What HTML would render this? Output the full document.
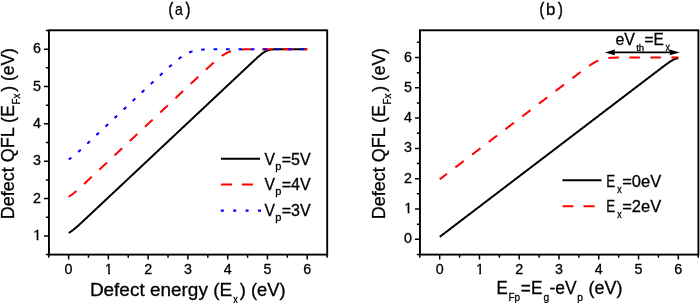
<!DOCTYPE html>
<html><head><meta charset="utf-8"><style>
html,body{margin:0;padding:0;background:#fff;}
svg{display:block;will-change:transform;}
text{font-family:"Liberation Sans", sans-serif;fill:#000;stroke:#000;stroke-width:0.3px;}
</style></head><body>
<svg width="700" height="303" viewBox="0 0 700 303">
<defs><clipPath id="c1m"><path d="M-6.53 -20 H10.77 V-1.97 H1.63 V3 H-0.23 V-1.97 H-6.53 Z"/></clipPath><clipPath id="c1e"><path d="M-10.50 -20 H6.80 V-1.97 H-2.34 V3 H-4.21 V-1.97 H-10.50 Z"/></clipPath></defs>
<rect x="48.95" y="30.3" width="278.25" height="224.30" fill="none" stroke="#000" stroke-width="1.9"/>
<path d="M48.71 254.6v3.1 M68.60 254.6v5.0 M88.48 254.6v3.1 M108.37 254.6v5.0 M128.25 254.6v3.1 M148.14 254.6v5.0 M168.03 254.6v3.1 M187.91 254.6v5.0 M207.80 254.6v3.1 M227.68 254.6v5.0 M247.56 254.6v3.1 M267.45 254.6v5.0 M287.34 254.6v3.1 M307.22 254.6v5.0 M327.11 254.6v3.1 M48.95 254.58h-3.1 M48.95 235.90h-5.0 M48.95 217.22h-3.1 M48.95 198.55h-5.0 M48.95 179.88h-3.1 M48.95 161.20h-5.0 M48.95 142.53h-3.1 M48.95 123.85h-5.0 M48.95 105.18h-3.1 M48.95 86.50h-5.0 M48.95 67.82h-3.1 M48.95 49.15h-5.0 M48.95 30.47h-3.1" stroke="#000" stroke-width="1.5" fill="none"/>
<text x="68.60" y="273.8" text-anchor="middle" font-size="14.3">0</text>
<g transform="translate(108.37,273.8)"><text x="0.45" text-anchor="middle" font-size="14.3" clip-path="url(#c1m)">1</text></g>
<text x="148.14" y="273.8" text-anchor="middle" font-size="14.3">2</text>
<text x="187.91" y="273.8" text-anchor="middle" font-size="14.3">3</text>
<text x="227.68" y="273.8" text-anchor="middle" font-size="14.3">4</text>
<text x="267.45" y="273.8" text-anchor="middle" font-size="14.3">5</text>
<text x="307.22" y="273.8" text-anchor="middle" font-size="14.3">6</text>
<g transform="translate(40.85,239.90)"><text x="0.45" text-anchor="end" font-size="14.3" clip-path="url(#c1e)">1</text></g>
<text x="40.85" y="202.55" text-anchor="end" font-size="14.3">2</text>
<text x="40.85" y="165.20" text-anchor="end" font-size="14.3">3</text>
<text x="40.85" y="127.85" text-anchor="end" font-size="14.3">4</text>
<text x="40.85" y="90.50" text-anchor="end" font-size="14.3">5</text>
<text x="40.85" y="53.15" text-anchor="end" font-size="14.3">6</text>
<rect x="419.95" y="30.3" width="278.45" height="224.30" fill="none" stroke="#000" stroke-width="1.9"/>
<path d="M419.81 254.6v3.1 M439.70 254.6v5.0 M459.58 254.6v3.1 M479.47 254.6v5.0 M499.36 254.6v3.1 M519.24 254.6v5.0 M539.12 254.6v3.1 M559.01 254.6v5.0 M578.89 254.6v3.1 M598.78 254.6v5.0 M618.66 254.6v3.1 M638.55 254.6v5.0 M658.43 254.6v3.1 M678.32 254.6v5.0 M698.20 254.6v3.1 M419.95 254.45h-3.1 M419.95 239.30h-5.0 M419.95 224.15h-3.1 M419.95 209.00h-5.0 M419.95 193.85h-3.1 M419.95 178.70h-5.0 M419.95 163.55h-3.1 M419.95 148.40h-5.0 M419.95 133.25h-3.1 M419.95 118.10h-5.0 M419.95 102.95h-3.1 M419.95 87.80h-5.0 M419.95 72.65h-3.1 M419.95 57.50h-5.0 M419.95 42.35h-3.1" stroke="#000" stroke-width="1.5" fill="none"/>
<text x="439.70" y="273.8" text-anchor="middle" font-size="14.3">0</text>
<g transform="translate(479.47,273.8)"><text x="0.45" text-anchor="middle" font-size="14.3" clip-path="url(#c1m)">1</text></g>
<text x="519.24" y="273.8" text-anchor="middle" font-size="14.3">2</text>
<text x="559.01" y="273.8" text-anchor="middle" font-size="14.3">3</text>
<text x="598.78" y="273.8" text-anchor="middle" font-size="14.3">4</text>
<text x="638.55" y="273.8" text-anchor="middle" font-size="14.3">5</text>
<text x="678.32" y="273.8" text-anchor="middle" font-size="14.3">6</text>
<text x="411.85" y="243.30" text-anchor="end" font-size="14.3">0</text>
<g transform="translate(411.85,213.00)"><text x="0.45" text-anchor="end" font-size="14.3" clip-path="url(#c1e)">1</text></g>
<text x="411.85" y="182.70" text-anchor="end" font-size="14.3">2</text>
<text x="411.85" y="152.40" text-anchor="end" font-size="14.3">3</text>
<text x="411.85" y="122.10" text-anchor="end" font-size="14.3">4</text>
<text x="411.85" y="91.80" text-anchor="end" font-size="14.3">5</text>
<text x="411.85" y="61.50" text-anchor="end" font-size="14.3">6</text>
<polyline points="68.60,232.84 69.20,232.54 69.79,232.22 70.39,231.87 70.99,231.50 71.58,231.10 72.18,230.68 72.78,230.24 73.37,229.78 73.97,229.31 74.57,228.82 75.16,228.32 75.76,227.81 76.36,227.30 76.95,226.77 77.55,226.24 78.14,225.70 78.74,225.16 79.34,224.62 79.93,224.07 80.53,223.52 81.13,222.97 81.72,222.42 82.32,221.87 82.92,221.31 83.51,220.75 84.11,220.20 84.71,219.64 85.30,219.08 85.90,218.52 86.50,217.97 87.09,217.41 87.69,216.85 88.29,216.29 88.88,215.73 89.48,215.17 90.08,214.61 90.67,214.05 91.27,213.49 91.87,212.93 92.46,212.37 93.06,211.81 93.66,211.25 94.25,210.69 94.85,210.13 95.44,209.57 96.04,209.01 96.64,208.45 97.23,207.89 97.83,207.33 98.43,206.77 99.02,206.21 99.62,205.65 100.22,205.09 100.81,204.53 101.41,203.97 102.01,203.41 102.60,202.85 103.20,202.28 103.80,201.72 104.39,201.16 104.99,200.60 105.59,200.04 106.18,199.48 106.78,198.92 107.38,198.36 107.97,197.80 108.57,197.24 109.17,196.68 109.76,196.12 110.36,195.56 110.96,195.00 111.55,194.44 112.15,193.88 112.74,193.32 113.34,192.76 113.94,192.20 114.53,191.64 115.13,191.08 115.73,190.52 116.32,189.96 116.92,189.40 117.52,188.84 118.11,188.28 118.71,187.72 119.31,187.16 119.90,186.60 120.50,186.04 121.10,185.48 121.69,184.92 122.29,184.36 122.89,183.80 123.48,183.24 124.08,182.68 124.68,182.12 125.27,181.56 125.87,181.00 126.47,180.44 127.06,179.87 127.66,179.31 128.25,178.75 128.85,178.19 129.45,177.63 130.04,177.07 130.64,176.51 131.24,175.95 131.83,175.39 132.43,174.83 133.03,174.27 133.62,173.71 134.22,173.15 134.82,172.59 135.41,172.03 136.01,171.47 136.61,170.91 137.20,170.35 137.80,169.79 138.40,169.23 138.99,168.67 139.59,168.11 140.19,167.55 140.78,166.99 141.38,166.43 141.98,165.87 142.57,165.31 143.17,164.75 143.77,164.19 144.36,163.63 144.96,163.07 145.55,162.51 146.15,161.95 146.75,161.39 147.34,160.83 147.94,160.27 148.54,159.71 149.13,159.15 149.73,158.59 150.33,158.03 150.92,157.46 151.52,156.90 152.12,156.34 152.71,155.78 153.31,155.22 153.91,154.66 154.50,154.10 155.10,153.54 155.70,152.98 156.29,152.42 156.89,151.86 157.49,151.30 158.08,150.74 158.68,150.18 159.28,149.62 159.87,149.06 160.47,148.50 161.07,147.94 161.66,147.38 162.26,146.82 162.85,146.26 163.45,145.70 164.05,145.14 164.64,144.58 165.24,144.02 165.84,143.46 166.43,142.90 167.03,142.34 167.63,141.78 168.22,141.22 168.82,140.66 169.42,140.10 170.01,139.54 170.61,138.98 171.21,138.42 171.80,137.86 172.40,137.30 173.00,136.74 173.59,136.18 174.19,135.62 174.79,135.06 175.38,134.49 175.98,133.93 176.58,133.37 177.17,132.81 177.77,132.25 178.37,131.69 178.96,131.13 179.56,130.57 180.15,130.01 180.75,129.45 181.35,128.89 181.94,128.33 182.54,127.77 183.14,127.21 183.73,126.65 184.33,126.09 184.93,125.53 185.52,124.97 186.12,124.41 186.72,123.85 187.31,123.29 187.91,122.73 188.51,122.17 189.10,121.61 189.70,121.05 190.30,120.49 190.89,119.93 191.49,119.37 192.09,118.81 192.68,118.25 193.28,117.69 193.88,117.13 194.47,116.57 195.07,116.01 195.67,115.45 196.26,114.89 196.86,114.33 197.45,113.77 198.05,113.21 198.65,112.65 199.24,112.08 199.84,111.52 200.44,110.96 201.03,110.40 201.63,109.84 202.23,109.28 202.82,108.72 203.42,108.16 204.02,107.60 204.61,107.04 205.21,106.48 205.81,105.92 206.40,105.36 207.00,104.80 207.60,104.24 208.19,103.68 208.79,103.12 209.39,102.56 209.98,102.00 210.58,101.44 211.18,100.88 211.77,100.32 212.37,99.76 212.97,99.20 213.56,98.64 214.16,98.08 214.75,97.52 215.35,96.96 215.95,96.40 216.54,95.84 217.14,95.28 217.74,94.72 218.33,94.16 218.93,93.60 219.53,93.04 220.12,92.48 220.72,91.92 221.32,91.36 221.91,90.80 222.51,90.24 223.11,89.67 223.70,89.11 224.30,88.55 224.90,87.99 225.49,87.43 226.09,86.87 226.69,86.31 227.28,85.75 227.88,85.19 228.48,84.63 229.07,84.07 229.67,83.51 230.27,82.95 230.86,82.39 231.46,81.83 232.05,81.27 232.65,80.71 233.25,80.15 233.84,79.59 234.44,79.03 235.04,78.47 235.63,77.91 236.23,77.35 236.83,76.79 237.42,76.23 238.02,75.67 238.62,75.11 239.21,74.55 239.81,73.99 240.41,73.43 241.00,72.87 241.60,72.31 242.20,71.75 242.79,71.19 243.39,70.63 243.99,70.07 244.58,69.51 245.18,68.95 245.78,68.39 246.37,67.83 246.97,67.27 247.56,66.71 248.16,66.15 248.76,65.59 249.35,65.03 249.95,64.47 250.55,63.91 251.14,63.35 251.74,62.80 252.34,62.24 252.93,61.68 253.53,61.13 254.13,60.58 254.72,60.02 255.32,59.47 255.92,58.92 256.51,58.38 257.11,57.84 257.71,57.30 258.30,56.77 258.90,56.24 259.50,55.72 260.09,55.21 260.69,54.71 261.29,54.22 261.88,53.75 262.48,53.30 263.08,52.86 263.67,52.45 264.27,52.06 264.86,51.70 265.46,51.36 266.06,51.06 266.65,50.78 267.25,50.54 267.85,50.32 268.44,50.13 269.04,49.97 269.64,49.83 270.23,49.71 270.83,49.61 271.43,49.53 272.02,49.46 272.62,49.40 273.22,49.36 273.81,49.32 274.41,49.29 275.01,49.26 275.60,49.24 276.20,49.22 276.80,49.21 277.39,49.20 277.99,49.19 278.59,49.18 279.18,49.18 279.78,49.17 280.38,49.17 280.97,49.16 281.57,49.16 282.16,49.16 282.76,49.16 283.36,49.16 283.95,49.15 284.55,49.15 285.15,49.15 285.74,49.15 286.34,49.15 286.94,49.15 287.53,49.15 288.13,49.15 288.73,49.15 289.32,49.15 289.92,49.15 290.52,49.15 291.11,49.15 291.71,49.15 292.31,49.15 292.90,49.15 293.50,49.15 294.10,49.15 294.69,49.15 295.29,49.15 295.89,49.15 296.48,49.15 297.08,49.15 297.68,49.15 298.27,49.15 298.87,49.15 299.46,49.15 300.06,49.15 300.66,49.15 301.25,49.15 301.85,49.15 302.45,49.15 303.04,49.15 303.64,49.15 304.24,49.15 304.83,49.15 305.43,49.15 306.03,49.15 306.62,49.15 307.22,49.15" fill="none" stroke="#000" stroke-width="2.0" stroke-linejoin="round"/>
<polyline points="68.60,196.61 69.20,196.31 69.79,195.99 70.39,195.64 70.99,195.27 71.58,194.87 72.18,194.45 72.78,194.01 73.37,193.55 73.97,193.08 74.57,192.59 75.16,192.09 75.76,191.58 76.36,191.07 76.95,190.54 77.55,190.01 78.14,189.47 78.74,188.93 79.34,188.39 79.93,187.84 80.53,187.29 81.13,186.74 81.72,186.19 82.32,185.64 82.92,185.08 83.51,184.52 84.11,183.97 84.71,183.41 85.30,182.85 85.90,182.29 86.50,181.74 87.09,181.18 87.69,180.62 88.29,180.06 88.88,179.50 89.48,178.94 90.08,178.38 90.67,177.82 91.27,177.26 91.87,176.70 92.46,176.14 93.06,175.58 93.66,175.02 94.25,174.46 94.85,173.90 95.44,173.34 96.04,172.78 96.64,172.22 97.23,171.66 97.83,171.10 98.43,170.54 99.02,169.98 99.62,169.42 100.22,168.86 100.81,168.30 101.41,167.74 102.01,167.18 102.60,166.62 103.20,166.06 103.80,165.50 104.39,164.93 104.99,164.37 105.59,163.81 106.18,163.25 106.78,162.69 107.38,162.13 107.97,161.57 108.57,161.01 109.17,160.45 109.76,159.89 110.36,159.33 110.96,158.77 111.55,158.21 112.15,157.65 112.74,157.09 113.34,156.53 113.94,155.97 114.53,155.41 115.13,154.85 115.73,154.29 116.32,153.73 116.92,153.17 117.52,152.61 118.11,152.05 118.71,151.49 119.31,150.93 119.90,150.37 120.50,149.81 121.10,149.25 121.69,148.69 122.29,148.13 122.89,147.57 123.48,147.01 124.08,146.45 124.68,145.89 125.27,145.33 125.87,144.77 126.47,144.21 127.06,143.65 127.66,143.09 128.25,142.53 128.85,141.96 129.45,141.40 130.04,140.84 130.64,140.28 131.24,139.72 131.83,139.16 132.43,138.60 133.03,138.04 133.62,137.48 134.22,136.92 134.82,136.36 135.41,135.80 136.01,135.24 136.61,134.68 137.20,134.12 137.80,133.56 138.40,133.00 138.99,132.44 139.59,131.88 140.19,131.32 140.78,130.76 141.38,130.20 141.98,129.64 142.57,129.08 143.17,128.52 143.77,127.96 144.36,127.40 144.96,126.84 145.55,126.28 146.15,125.72 146.75,125.16 147.34,124.60 147.94,124.04 148.54,123.48 149.13,122.92 149.73,122.36 150.33,121.80 150.92,121.24 151.52,120.68 152.12,120.12 152.71,119.55 153.31,118.99 153.91,118.43 154.50,117.87 155.10,117.31 155.70,116.75 156.29,116.19 156.89,115.63 157.49,115.07 158.08,114.51 158.68,113.95 159.28,113.39 159.87,112.83 160.47,112.27 161.07,111.71 161.66,111.15 162.26,110.59 162.85,110.03 163.45,109.47 164.05,108.91 164.64,108.35 165.24,107.79 165.84,107.23 166.43,106.67 167.03,106.11 167.63,105.55 168.22,104.99 168.82,104.43 169.42,103.87 170.01,103.31 170.61,102.75 171.21,102.19 171.80,101.63 172.40,101.07 173.00,100.51 173.59,99.95 174.19,99.39 174.79,98.83 175.38,98.27 175.98,97.71 176.58,97.14 177.17,96.58 177.77,96.02 178.37,95.46 178.96,94.90 179.56,94.34 180.15,93.78 180.75,93.22 181.35,92.66 181.94,92.10 182.54,91.54 183.14,90.98 183.73,90.42 184.33,89.86 184.93,89.30 185.52,88.74 186.12,88.18 186.72,87.62 187.31,87.06 187.91,86.50 188.51,85.94 189.10,85.38 189.70,84.82 190.30,84.26 190.89,83.70 191.49,83.14 192.09,82.58 192.68,82.02 193.28,81.46 193.88,80.90 194.47,80.35 195.07,79.79 195.67,79.23 196.26,78.67 196.86,78.11 197.45,77.55 198.05,76.99 198.65,76.43 199.24,75.88 199.84,75.32 200.44,74.76 201.03,74.20 201.63,73.65 202.23,73.09 202.82,72.53 203.42,71.98 204.02,71.42 204.61,70.87 205.21,70.32 205.81,69.76 206.40,69.21 207.00,68.66 207.60,68.11 208.19,67.56 208.79,67.02 209.39,66.47 209.98,65.93 210.58,65.39 211.18,64.85 211.77,64.31 212.37,63.77 212.97,63.24 213.56,62.72 214.16,62.19 214.75,61.67 215.35,61.16 215.95,60.65 216.54,60.14 217.14,59.64 217.74,59.15 218.33,58.66 218.93,58.19 219.53,57.72 220.12,57.26 220.72,56.81 221.32,56.37 221.91,55.94 222.51,55.53 223.11,55.12 223.70,54.73 224.30,54.36 224.90,54.00 225.49,53.65 226.09,53.32 226.69,53.00 227.28,52.71 227.88,52.42 228.48,52.16 229.07,51.91 229.67,51.67 230.27,51.45 230.86,51.25 231.46,51.06 232.05,50.88 232.65,50.72 233.25,50.57 233.84,50.44 234.44,50.31 235.04,50.20 235.63,50.09 236.23,50.00 236.83,49.91 237.42,49.84 238.02,49.77 238.62,49.70 239.21,49.65 239.81,49.59 240.41,49.55 241.00,49.51 241.60,49.47 242.20,49.43 242.79,49.40 243.39,49.38 243.99,49.35 244.58,49.33 245.18,49.31 245.78,49.29 246.37,49.28 246.97,49.27 247.56,49.25 248.16,49.24 248.76,49.23 249.35,49.22 249.95,49.21 250.55,49.21 251.14,49.20 251.74,49.20 252.34,49.19 252.93,49.19 253.53,49.18 254.13,49.18 254.72,49.18 255.32,49.17 255.92,49.17 256.51,49.17 257.11,49.17 257.71,49.16 258.30,49.16 258.90,49.16 259.50,49.16 260.09,49.16 260.69,49.16 261.29,49.16 261.88,49.16 262.48,49.16 263.08,49.16 263.67,49.15 264.27,49.15 264.86,49.15 265.46,49.15 266.06,49.15 266.65,49.15 267.25,49.15 267.85,49.15 268.44,49.15 269.04,49.15 269.64,49.15 270.23,49.15 270.83,49.15 271.43,49.15 272.02,49.15 272.62,49.15 273.22,49.15 273.81,49.15 274.41,49.15 275.01,49.15 275.60,49.15 276.20,49.15 276.80,49.15 277.39,49.15 277.99,49.15 278.59,49.15 279.18,49.15 279.78,49.15 280.38,49.15 280.97,49.15 281.57,49.15 282.16,49.15 282.76,49.15 283.36,49.15 283.95,49.15 284.55,49.15 285.15,49.15 285.74,49.15 286.34,49.15 286.94,49.15 287.53,49.15 288.13,49.15 288.73,49.15 289.32,49.15 289.92,49.15 290.52,49.15 291.11,49.15 291.71,49.15 292.31,49.15 292.90,49.15 293.50,49.15 294.10,49.15 294.69,49.15 295.29,49.15 295.89,49.15 296.48,49.15 297.08,49.15 297.68,49.15 298.27,49.15 298.87,49.15 299.46,49.15 300.06,49.15 300.66,49.15 301.25,49.15 301.85,49.15 302.45,49.15 303.04,49.15 303.64,49.15 304.24,49.15 304.83,49.15 305.43,49.15 306.03,49.15 306.62,49.15 307.22,49.15" fill="none" stroke="#f00" stroke-width="2.0" stroke-dasharray="10.5 10.386" stroke-dashoffset="0.82"/>
<polyline points="68.60,159.26 69.20,158.96 69.79,158.64 70.39,158.29 70.99,157.92 71.58,157.52 72.18,157.10 72.78,156.66 73.37,156.20 73.97,155.73 74.57,155.24 75.16,154.74 75.76,154.23 76.36,153.72 76.95,153.19 77.55,152.66 78.14,152.12 78.74,151.58 79.34,151.04 79.93,150.49 80.53,149.94 81.13,149.39 81.72,148.84 82.32,148.29 82.92,147.73 83.51,147.17 84.11,146.62 84.71,146.06 85.30,145.50 85.90,144.94 86.50,144.39 87.09,143.83 87.69,143.27 88.29,142.71 88.88,142.15 89.48,141.59 90.08,141.03 90.67,140.47 91.27,139.91 91.87,139.35 92.46,138.79 93.06,138.23 93.66,137.67 94.25,137.11 94.85,136.55 95.44,135.99 96.04,135.43 96.64,134.87 97.23,134.31 97.83,133.75 98.43,133.19 99.02,132.63 99.62,132.07 100.22,131.51 100.81,130.95 101.41,130.39 102.01,129.83 102.60,129.27 103.20,128.71 103.80,128.15 104.39,127.58 104.99,127.02 105.59,126.46 106.18,125.90 106.78,125.34 107.38,124.78 107.97,124.22 108.57,123.66 109.17,123.10 109.76,122.54 110.36,121.98 110.96,121.42 111.55,120.86 112.15,120.30 112.74,119.74 113.34,119.18 113.94,118.62 114.53,118.06 115.13,117.50 115.73,116.94 116.32,116.38 116.92,115.82 117.52,115.26 118.11,114.70 118.71,114.14 119.31,113.58 119.90,113.02 120.50,112.46 121.10,111.90 121.69,111.34 122.29,110.78 122.89,110.22 123.48,109.66 124.08,109.10 124.68,108.54 125.27,107.98 125.87,107.42 126.47,106.86 127.06,106.30 127.66,105.74 128.25,105.18 128.85,104.62 129.45,104.05 130.04,103.49 130.64,102.93 131.24,102.37 131.83,101.81 132.43,101.25 133.03,100.69 133.62,100.13 134.22,99.57 134.82,99.01 135.41,98.45 136.01,97.89 136.61,97.33 137.20,96.77 137.80,96.21 138.40,95.65 138.99,95.09 139.59,94.53 140.19,93.97 140.78,93.41 141.38,92.85 141.98,92.29 142.57,91.73 143.17,91.17 143.77,90.61 144.36,90.05 144.96,89.49 145.55,88.93 146.15,88.37 146.75,87.81 147.34,87.25 147.94,86.69 148.54,86.13 149.13,85.57 149.73,85.02 150.33,84.46 150.92,83.90 151.52,83.34 152.12,82.78 152.71,82.22 153.31,81.66 153.91,81.10 154.50,80.54 155.10,79.99 155.70,79.43 156.29,78.87 156.89,78.31 157.49,77.76 158.08,77.20 158.68,76.64 159.28,76.09 159.87,75.53 160.47,74.98 161.07,74.42 161.66,73.87 162.26,73.32 162.85,72.76 163.45,72.21 164.05,71.66 164.64,71.11 165.24,70.56 165.84,70.02 166.43,69.47 167.03,68.93 167.63,68.38 168.22,67.84 168.82,67.30 169.42,66.76 170.01,66.23 170.61,65.70 171.21,65.17 171.80,64.64 172.40,64.12 173.00,63.60 173.59,63.08 174.19,62.57 174.79,62.06 175.38,61.56 175.98,61.07 176.58,60.58 177.17,60.09 177.77,59.61 178.37,59.14 178.96,58.68 179.56,58.23 180.15,57.78 180.75,57.35 181.35,56.92 181.94,56.51 182.54,56.10 183.14,55.71 183.73,55.33 184.33,54.96 184.93,54.61 185.52,54.27 186.12,53.94 186.72,53.62 187.31,53.32 187.91,53.03 188.51,52.76 189.10,52.50 189.70,52.26 190.30,52.02 190.89,51.81 191.49,51.60 192.09,51.41 192.68,51.23 193.28,51.06 193.88,50.91 194.47,50.76 195.07,50.63 195.67,50.50 196.26,50.38 196.86,50.28 197.45,50.18 198.05,50.09 198.65,50.01 199.24,49.93 199.84,49.86 200.44,49.80 201.03,49.74 201.63,49.69 202.23,49.64 202.82,49.59 203.42,49.55 204.02,49.51 204.61,49.48 205.21,49.45 205.81,49.42 206.40,49.40 207.00,49.37 207.60,49.35 208.19,49.33 208.79,49.32 209.39,49.30 209.98,49.29 210.58,49.27 211.18,49.26 211.77,49.25 212.37,49.24 212.97,49.23 213.56,49.23 214.16,49.22 214.75,49.21 215.35,49.21 215.95,49.20 216.54,49.20 217.14,49.19 217.74,49.19 218.33,49.18 218.93,49.18 219.53,49.18 220.12,49.18 220.72,49.17 221.32,49.17 221.91,49.17 222.51,49.17 223.11,49.17 223.70,49.16 224.30,49.16 224.90,49.16 225.49,49.16 226.09,49.16 226.69,49.16 227.28,49.16 227.88,49.16 228.48,49.16 229.07,49.16 229.67,49.16 230.27,49.15 230.86,49.15 231.46,49.15 232.05,49.15 232.65,49.15 233.25,49.15 233.84,49.15 234.44,49.15 235.04,49.15 235.63,49.15 236.23,49.15 236.83,49.15 237.42,49.15 238.02,49.15 238.62,49.15 239.21,49.15 239.81,49.15 240.41,49.15 241.00,49.15 241.60,49.15 242.20,49.15 242.79,49.15 243.39,49.15 243.99,49.15 244.58,49.15 245.18,49.15 245.78,49.15 246.37,49.15 246.97,49.15 247.56,49.15 248.16,49.15 248.76,49.15 249.35,49.15 249.95,49.15 250.55,49.15 251.14,49.15 251.74,49.15 252.34,49.15 252.93,49.15 253.53,49.15 254.13,49.15 254.72,49.15 255.32,49.15 255.92,49.15 256.51,49.15 257.11,49.15 257.71,49.15 258.30,49.15 258.90,49.15 259.50,49.15 260.09,49.15 260.69,49.15 261.29,49.15 261.88,49.15 262.48,49.15 263.08,49.15 263.67,49.15 264.27,49.15 264.86,49.15 265.46,49.15 266.06,49.15 266.65,49.15 267.25,49.15 267.85,49.15 268.44,49.15 269.04,49.15 269.64,49.15 270.23,49.15 270.83,49.15 271.43,49.15 272.02,49.15 272.62,49.15 273.22,49.15 273.81,49.15 274.41,49.15 275.01,49.15 275.60,49.15 276.20,49.15 276.80,49.15 277.39,49.15 277.99,49.15 278.59,49.15 279.18,49.15 279.78,49.15 280.38,49.15 280.97,49.15 281.57,49.15 282.16,49.15 282.76,49.15 283.36,49.15 283.95,49.15 284.55,49.15 285.15,49.15 285.74,49.15 286.34,49.15 286.94,49.15 287.53,49.15 288.13,49.15 288.73,49.15 289.32,49.15 289.92,49.15 290.52,49.15 291.11,49.15 291.71,49.15 292.31,49.15 292.90,49.15 293.50,49.15 294.10,49.15 294.69,49.15 295.29,49.15 295.89,49.15 296.48,49.15 297.08,49.15 297.68,49.15 298.27,49.15 298.87,49.15 299.46,49.15 300.06,49.15 300.66,49.15 301.25,49.15 301.85,49.15 302.45,49.15 303.04,49.15 303.64,49.15 304.24,49.15 304.83,49.15 305.43,49.15 306.03,49.15 306.62,49.15 307.22,49.15" fill="none" stroke="#00f" stroke-width="2.0" stroke-dasharray="3.6 8.846" stroke-dashoffset="0.46"/>
<polyline points="439.70,236.88 440.30,236.42 440.89,235.97 441.49,235.51 442.09,235.06 442.68,234.60 443.28,234.15 443.88,233.69 444.47,233.24 445.07,232.79 445.67,232.33 446.26,231.88 446.86,231.42 447.46,230.97 448.05,230.51 448.65,230.06 449.24,229.60 449.84,229.15 450.44,228.70 451.03,228.24 451.63,227.79 452.23,227.33 452.82,226.88 453.42,226.42 454.02,225.97 454.61,225.51 455.21,225.06 455.81,224.60 456.40,224.15 457.00,223.70 457.60,223.24 458.19,222.79 458.79,222.33 459.39,221.88 459.98,221.42 460.58,220.97 461.18,220.51 461.77,220.06 462.37,219.61 462.97,219.15 463.56,218.70 464.16,218.24 464.76,217.79 465.35,217.33 465.95,216.88 466.54,216.42 467.14,215.97 467.74,215.51 468.33,215.06 468.93,214.61 469.53,214.15 470.12,213.70 470.72,213.24 471.32,212.79 471.91,212.33 472.51,211.88 473.11,211.42 473.70,210.97 474.30,210.52 474.90,210.06 475.49,209.61 476.09,209.15 476.69,208.70 477.28,208.24 477.88,207.79 478.48,207.33 479.07,206.88 479.67,206.42 480.27,205.97 480.86,205.52 481.46,205.06 482.06,204.61 482.65,204.15 483.25,203.70 483.84,203.24 484.44,202.79 485.04,202.33 485.63,201.88 486.23,201.43 486.83,200.97 487.42,200.52 488.02,200.06 488.62,199.61 489.21,199.15 489.81,198.70 490.41,198.24 491.00,197.79 491.60,197.33 492.20,196.88 492.79,196.43 493.39,195.97 493.99,195.52 494.58,195.06 495.18,194.61 495.78,194.15 496.37,193.70 496.97,193.24 497.57,192.79 498.16,192.34 498.76,191.88 499.36,191.43 499.95,190.97 500.55,190.52 501.14,190.06 501.74,189.61 502.34,189.15 502.93,188.70 503.53,188.24 504.13,187.79 504.72,187.34 505.32,186.88 505.92,186.43 506.51,185.97 507.11,185.52 507.71,185.06 508.30,184.61 508.90,184.15 509.50,183.70 510.09,183.25 510.69,182.79 511.29,182.34 511.88,181.88 512.48,181.43 513.08,180.97 513.67,180.52 514.27,180.06 514.87,179.61 515.46,179.15 516.06,178.70 516.65,178.25 517.25,177.79 517.85,177.34 518.44,176.88 519.04,176.43 519.64,175.97 520.23,175.52 520.83,175.06 521.43,174.61 522.02,174.16 522.62,173.70 523.22,173.25 523.81,172.79 524.41,172.34 525.01,171.88 525.60,171.43 526.20,170.97 526.80,170.52 527.39,170.06 527.99,169.61 528.59,169.16 529.18,168.70 529.78,168.25 530.38,167.79 530.97,167.34 531.57,166.88 532.17,166.43 532.76,165.97 533.36,165.52 533.95,165.06 534.55,164.61 535.15,164.16 535.74,163.70 536.34,163.25 536.94,162.79 537.53,162.34 538.13,161.88 538.73,161.43 539.32,160.97 539.92,160.52 540.52,160.07 541.11,159.61 541.71,159.16 542.31,158.70 542.90,158.25 543.50,157.79 544.10,157.34 544.69,156.88 545.29,156.43 545.89,155.98 546.48,155.52 547.08,155.07 547.68,154.61 548.27,154.16 548.87,153.70 549.47,153.25 550.06,152.79 550.66,152.34 551.25,151.88 551.85,151.43 552.45,150.98 553.04,150.52 553.64,150.07 554.24,149.61 554.83,149.16 555.43,148.70 556.03,148.25 556.62,147.79 557.22,147.34 557.82,146.88 558.41,146.43 559.01,145.98 559.61,145.52 560.20,145.07 560.80,144.61 561.40,144.16 561.99,143.70 562.59,143.25 563.19,142.79 563.78,142.34 564.38,141.89 564.98,141.43 565.57,140.98 566.17,140.52 566.77,140.07 567.36,139.61 567.96,139.16 568.55,138.70 569.15,138.25 569.75,137.80 570.34,137.34 570.94,136.89 571.54,136.43 572.13,135.98 572.73,135.52 573.33,135.07 573.92,134.61 574.52,134.16 575.12,133.70 575.71,133.25 576.31,132.80 576.91,132.34 577.50,131.89 578.10,131.43 578.70,130.98 579.29,130.52 579.89,130.07 580.49,129.61 581.08,129.16 581.68,128.71 582.28,128.25 582.87,127.80 583.47,127.34 584.07,126.89 584.66,126.43 585.26,125.98 585.85,125.52 586.45,125.07 587.05,124.61 587.64,124.16 588.24,123.71 588.84,123.25 589.43,122.80 590.03,122.34 590.63,121.89 591.22,121.43 591.82,120.98 592.42,120.52 593.01,120.07 593.61,119.62 594.21,119.16 594.80,118.71 595.40,118.25 596.00,117.80 596.59,117.34 597.19,116.89 597.79,116.43 598.38,115.98 598.98,115.52 599.58,115.07 600.17,114.62 600.77,114.16 601.37,113.71 601.96,113.25 602.56,112.80 603.15,112.34 603.75,111.89 604.35,111.43 604.94,110.98 605.54,110.53 606.14,110.07 606.73,109.62 607.33,109.16 607.93,108.71 608.52,108.25 609.12,107.80 609.72,107.34 610.31,106.89 610.91,106.43 611.51,105.98 612.10,105.53 612.70,105.07 613.30,104.62 613.89,104.16 614.49,103.71 615.09,103.25 615.68,102.80 616.28,102.34 616.88,101.89 617.47,101.44 618.07,100.98 618.66,100.53 619.26,100.07 619.86,99.62 620.45,99.16 621.05,98.71 621.65,98.25 622.24,97.80 622.84,97.34 623.44,96.89 624.03,96.44 624.63,95.98 625.23,95.53 625.82,95.07 626.42,94.62 627.02,94.16 627.61,93.71 628.21,93.25 628.81,92.80 629.40,92.35 630.00,91.89 630.60,91.44 631.19,90.98 631.79,90.53 632.39,90.07 632.98,89.62 633.58,89.16 634.18,88.71 634.77,88.25 635.37,87.80 635.96,87.35 636.56,86.89 637.16,86.44 637.75,85.98 638.35,85.53 638.95,85.07 639.54,84.62 640.14,84.16 640.74,83.71 641.33,83.26 641.93,82.80 642.53,82.35 643.12,81.89 643.72,81.44 644.32,80.98 644.91,80.53 645.51,80.07 646.11,79.62 646.70,79.16 647.30,78.71 647.90,78.26 648.49,77.80 649.09,77.35 649.69,76.89 650.28,76.44 650.88,75.98 651.48,75.53 652.07,75.07 652.67,74.62 653.26,74.17 653.86,73.71 654.46,73.26 655.05,72.80 655.65,72.35 656.25,71.89 656.84,71.44 657.44,70.99 658.04,70.53 658.63,70.08 659.23,69.63 659.83,69.17 660.42,68.72 661.02,68.27 661.62,67.82 662.21,67.37 662.81,66.92 663.41,66.47 664.00,66.02 664.60,65.58 665.20,65.13 665.79,64.69 666.39,64.26 666.99,63.82 667.58,63.39 668.18,62.97 668.78,62.55 669.37,62.15 669.97,61.75 670.56,61.36 671.16,60.99 671.76,60.63 672.35,60.29 672.95,59.96 673.55,59.66 674.14,59.38 674.74,59.13 675.34,58.90 675.93,58.69 676.53,58.51 677.13,58.35 677.72,58.21 678.32,58.09" fill="none" stroke="#000" stroke-width="2.0"/>
<polyline points="439.70,179.31 440.30,178.85 440.89,178.40 441.49,177.94 442.09,177.49 442.68,177.03 443.28,176.58 443.88,176.12 444.47,175.67 445.07,175.22 445.67,174.76 446.26,174.31 446.86,173.85 447.46,173.40 448.05,172.94 448.65,172.49 449.24,172.03 449.84,171.58 450.44,171.13 451.03,170.67 451.63,170.22 452.23,169.76 452.82,169.31 453.42,168.85 454.02,168.40 454.61,167.94 455.21,167.49 455.81,167.03 456.40,166.58 457.00,166.13 457.60,165.67 458.19,165.22 458.79,164.76 459.39,164.31 459.98,163.85 460.58,163.40 461.18,162.94 461.77,162.49 462.37,162.04 462.97,161.58 463.56,161.13 464.16,160.67 464.76,160.22 465.35,159.76 465.95,159.31 466.54,158.85 467.14,158.40 467.74,157.94 468.33,157.49 468.93,157.04 469.53,156.58 470.12,156.13 470.72,155.67 471.32,155.22 471.91,154.76 472.51,154.31 473.11,153.85 473.70,153.40 474.30,152.95 474.90,152.49 475.49,152.04 476.09,151.58 476.69,151.13 477.28,150.67 477.88,150.22 478.48,149.76 479.07,149.31 479.67,148.85 480.27,148.40 480.86,147.95 481.46,147.49 482.06,147.04 482.65,146.58 483.25,146.13 483.84,145.67 484.44,145.22 485.04,144.76 485.63,144.31 486.23,143.86 486.83,143.40 487.42,142.95 488.02,142.49 488.62,142.04 489.21,141.58 489.81,141.13 490.41,140.67 491.00,140.22 491.60,139.76 492.20,139.31 492.79,138.86 493.39,138.40 493.99,137.95 494.58,137.49 495.18,137.04 495.78,136.58 496.37,136.13 496.97,135.67 497.57,135.22 498.16,134.77 498.76,134.31 499.36,133.86 499.95,133.40 500.55,132.95 501.14,132.49 501.74,132.04 502.34,131.58 502.93,131.13 503.53,130.67 504.13,130.22 504.72,129.77 505.32,129.31 505.92,128.86 506.51,128.40 507.11,127.95 507.71,127.49 508.30,127.04 508.90,126.58 509.50,126.13 510.09,125.68 510.69,125.22 511.29,124.77 511.88,124.31 512.48,123.86 513.08,123.40 513.67,122.95 514.27,122.49 514.87,122.04 515.46,121.58 516.06,121.13 516.65,120.68 517.25,120.22 517.85,119.77 518.44,119.31 519.04,118.86 519.64,118.40 520.23,117.95 520.83,117.49 521.43,117.04 522.02,116.59 522.62,116.13 523.22,115.68 523.81,115.22 524.41,114.77 525.01,114.31 525.60,113.86 526.20,113.40 526.80,112.95 527.39,112.49 527.99,112.04 528.59,111.59 529.18,111.13 529.78,110.68 530.38,110.22 530.97,109.77 531.57,109.31 532.17,108.86 532.76,108.40 533.36,107.95 533.95,107.50 534.55,107.04 535.15,106.59 535.74,106.13 536.34,105.68 536.94,105.22 537.53,104.77 538.13,104.31 538.73,103.86 539.32,103.40 539.92,102.95 540.52,102.50 541.11,102.04 541.71,101.59 542.31,101.13 542.90,100.68 543.50,100.22 544.10,99.77 544.69,99.31 545.29,98.86 545.89,98.41 546.48,97.95 547.08,97.50 547.68,97.04 548.27,96.59 548.87,96.13 549.47,95.68 550.06,95.22 550.66,94.77 551.25,94.31 551.85,93.86 552.45,93.41 553.04,92.95 553.64,92.50 554.24,92.04 554.83,91.59 555.43,91.13 556.03,90.68 556.62,90.22 557.22,89.77 557.82,89.32 558.41,88.86 559.01,88.41 559.61,87.95 560.20,87.50 560.80,87.04 561.40,86.59 561.99,86.13 562.59,85.68 563.19,85.23 563.78,84.77 564.38,84.32 564.98,83.86 565.57,83.41 566.17,82.96 566.77,82.50 567.36,82.05 567.96,81.59 568.55,81.14 569.15,80.69 569.75,80.23 570.34,79.78 570.94,79.33 571.54,78.87 572.13,78.42 572.73,77.97 573.33,77.51 573.92,77.06 574.52,76.61 575.12,76.16 575.71,75.70 576.31,75.25 576.91,74.80 577.50,74.35 578.10,73.90 578.70,73.45 579.29,73.00 579.89,72.56 580.49,72.11 581.08,71.66 581.68,71.22 582.28,70.78 582.87,70.33 583.47,69.89 584.07,69.46 584.66,69.02 585.26,68.58 585.85,68.15 586.45,67.72 587.05,67.30 587.64,66.88 588.24,66.46 588.84,66.05 589.43,65.64 590.03,65.23 590.63,64.84 591.22,64.45 591.82,64.06 592.42,63.69 593.01,63.32 593.61,62.96 594.21,62.61 594.80,62.28 595.40,61.95 596.00,61.63 596.59,61.33 597.19,61.04 597.79,60.77 598.38,60.50 598.98,60.25 599.58,60.02 600.17,59.80 600.77,59.59 601.37,59.40 601.96,59.22 602.56,59.06 603.15,58.91 603.75,58.77 604.35,58.64 604.94,58.52 605.54,58.42 606.14,58.32 606.73,58.23 607.33,58.15 607.93,58.08 608.52,58.02 609.12,57.96 609.72,57.91 610.31,57.86 610.91,57.82 611.51,57.79 612.10,57.75 612.70,57.73 613.30,57.70 613.89,57.68 614.49,57.66 615.09,57.64 615.68,57.62 616.28,57.61 616.88,57.60 617.47,57.58 618.07,57.57 618.66,57.57 619.26,57.56 619.86,57.55 620.45,57.55 621.05,57.54 621.65,57.54 622.24,57.53 622.84,57.53 623.44,57.52 624.03,57.52 624.63,57.52 625.23,57.52 625.82,57.51 626.42,57.51 627.02,57.51 627.61,57.51 628.21,57.51 628.81,57.51 629.40,57.51 630.00,57.51 630.60,57.51 631.19,57.50 631.79,57.50 632.39,57.50 632.98,57.50 633.58,57.50 634.18,57.50 634.77,57.50 635.37,57.50 635.96,57.50 636.56,57.50 637.16,57.50 637.75,57.50 638.35,57.50 638.95,57.50 639.54,57.50 640.14,57.50 640.74,57.50 641.33,57.50 641.93,57.50 642.53,57.50 643.12,57.50 643.72,57.50 644.32,57.50 644.91,57.50 645.51,57.50 646.11,57.50 646.70,57.50 647.30,57.50 647.90,57.50 648.49,57.50 649.09,57.50 649.69,57.50 650.28,57.50 650.88,57.50 651.48,57.50 652.07,57.50 652.67,57.50 653.26,57.50 653.86,57.50 654.46,57.50 655.05,57.50 655.65,57.50 656.25,57.50 656.84,57.50 657.44,57.50 658.04,57.50 658.63,57.50 659.23,57.50 659.83,57.50 660.42,57.50 661.02,57.50 661.62,57.50 662.21,57.50 662.81,57.50 663.41,57.50 664.00,57.50 664.60,57.50 665.20,57.50 665.79,57.50 666.39,57.50 666.99,57.50 667.58,57.50 668.18,57.50 668.78,57.50 669.37,57.50 669.97,57.50 670.56,57.50 671.16,57.50 671.76,57.50 672.35,57.50 672.95,57.50 673.55,57.50 674.14,57.50 674.74,57.50 675.34,57.50 675.93,57.50 676.53,57.50 677.13,57.50 677.72,57.50 678.32,57.50" fill="none" stroke="#f00" stroke-width="2.0" stroke-dasharray="10.5 10.5" stroke-dashoffset="1.3"/>
<line x1="221" y1="158.8" x2="260" y2="158.8" stroke="#000" stroke-width="2"/>
<line x1="221" y1="184.5" x2="260" y2="184.5" stroke="#f00" stroke-width="2" stroke-dasharray="11 10"/>
<line x1="220.8" y1="210.6" x2="261" y2="210.6" stroke="#00f" stroke-width="2.2" stroke-dasharray="3 9.4"/>
<text transform="translate(264.62,164.50) scale(0.9828,1)" font-size="16" >V</text>
<text transform="translate(275.28,169.80) scale(1.0101,1)" font-size="11" >p</text>
<text transform="translate(281.70,164.50) scale(1.0036,1)" font-size="16" >=5V</text>
<text transform="translate(264.62,190.10) scale(0.9828,1)" font-size="16" >V</text>
<text transform="translate(275.28,195.40) scale(1.0101,1)" font-size="11" >p</text>
<text transform="translate(281.70,190.10) scale(1.0036,1)" font-size="16" >=4V</text>
<text transform="translate(264.62,215.80) scale(0.9828,1)" font-size="16" >V</text>
<text transform="translate(275.28,221.10) scale(1.0101,1)" font-size="11" >p</text>
<text transform="translate(281.70,215.80) scale(1.0036,1)" font-size="16" >=3V</text>
<line x1="562.5" y1="180.2" x2="601.5" y2="180.2" stroke="#000" stroke-width="2"/>
<line x1="562.5" y1="206.2" x2="601.5" y2="206.2" stroke="#f00" stroke-width="2" stroke-dasharray="11 10"/>
<text transform="translate(606.23,186.90) scale(0.8372,1)" font-size="16" >E</text>
<text transform="translate(617.27,192.70) scale(0.8842,1)" font-size="10" >x</text>
<text transform="translate(622.18,186.90) scale(1.0304,1)" font-size="16" >=0eV</text>
<text transform="translate(606.23,211.90) scale(0.8372,1)" font-size="16" >E</text>
<text transform="translate(617.27,217.70) scale(0.8842,1)" font-size="10" >x</text>
<text transform="translate(622.18,211.90) scale(1.0304,1)" font-size="16" >=2eV</text>
<text transform="translate(168.54,15.11) scale(0.7751,1.0001)" font-size="18.5" style="stroke-width:0.45px">(</text>
<text transform="translate(174.96,14.94) scale(0.8824,1.0000)" font-size="16.0" style="stroke-width:0.3px">a</text>
<text transform="translate(185.55,15.11) scale(0.7900,1.0001)" font-size="18.5" style="stroke-width:0.45px">)</text>
<text transform="translate(539.54,15.07) scale(0.7668,1.0009)" font-size="18.7" style="stroke-width:0.45px">(</text>
<text transform="translate(546.10,14.93) scale(0.9935,1.0004)" font-size="17.0" style="stroke-width:0.3px">b</text>
<text transform="translate(557.95,15.07) scale(0.7816,1.0009)" font-size="18.7" style="stroke-width:0.45px">)</text>
<text transform="translate(89.88,296.00) scale(1.0254,1)" font-size="18.5" >Defect energy (E</text>
<text transform="translate(233.26,302.50) scale(0.9053,1)" font-size="10" >x</text>
<text transform="translate(239.82,296.00) scale(0.9897,1)" font-size="18.5" >) (eV)</text>
<text transform="translate(496.45,293.80) scale(0.9378,1)" font-size="18" >E</text>
<text transform="translate(508.40,300.60) scale(0.9662,1)" font-size="10.3" >Fp</text>
<text transform="translate(520.84,293.80) scale(0.9579,1)" font-size="18" >=E</text>
<text transform="translate(543.49,300.60) scale(0.9924,1)" font-size="10.3" >g</text>
<text transform="translate(549.42,293.80) scale(0.9671,1)" font-size="18" >-eV</text>
<text transform="translate(577.24,300.60) scale(0.9924,1)" font-size="10.3" >p</text>
<text transform="translate(588.52,293.80) scale(0.9978,1)" font-size="18" >(eV)</text>
<text transform="translate(13.60,219.14) rotate(-90) scale(0.9988,1)" font-size="18">Defect QFL (E</text>
<text transform="translate(19.90,104.38) rotate(-90) scale(0.9337,1)" font-size="10.5">Fx</text>
<text transform="translate(13.60,91.77) rotate(-90) scale(0.9823,1)" font-size="17.8">) (eV)</text>
<text transform="translate(384.50,219.14) rotate(-90) scale(0.9988,1)" font-size="18">Defect QFL (E</text>
<text transform="translate(390.80,104.38) rotate(-90) scale(0.9337,1)" font-size="10.5">Fx</text>
<text transform="translate(384.50,91.77) rotate(-90) scale(0.9823,1)" font-size="17.8">) (eV)</text>
<line x1="610" y1="52.4" x2="675" y2="52.4" stroke="#000" stroke-width="1.6"/>
<path d="M604.8 52.4 L615.0 49.6 L614.4 52.4 L615.0 55.2 Z" fill="#000"/>
<path d="M679.8 52.4 L669.6 49.6 L670.2 52.4 L669.6 55.2 Z" fill="#000"/>
<text transform="translate(615.48,44.80) scale(0.9989,1)" font-size="16" >eV</text>
<text transform="translate(636.15,51.30) scale(0.9866,1)" font-size="9.8" >th</text>
<text transform="translate(644.53,44.80) scale(0.9644,1)" font-size="16" >=E</text>
<text transform="translate(665.56,51.20) scale(0.8622,1)" font-size="10.5" >x</text>
</svg>
</body></html>
